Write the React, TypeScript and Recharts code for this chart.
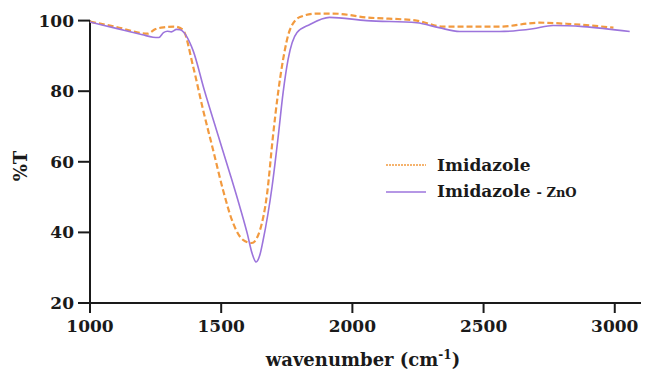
import { LineChart, Line, XAxis, YAxis, ReferenceLine } from 'recharts'

// Imidazole (pure) FTIR trace
const imidazoleWn = [1000, 1100, 1219, 1250, 1280, 1322, 1354, 1393, 1431, 1469, 1507, 1545, 1583, 1617, 1648, 1675, 1697, 1717, 1736, 1762, 1800, 1865, 1925, 2054, 2245, 2344, 2435, 2561, 2713, 2816, 2995]
const imidazoleT = [99.7, 98.2, 96.3, 97.6, 98.1, 98.3, 97.4, 87, 74.7, 63.4, 52, 42.7, 37.9, 37, 40.7, 51, 67, 79.6, 89, 97.4, 101, 102, 102, 100.9, 100, 98.3, 98.3, 98.3, 99.4, 99.1, 98]

// Imidazole - ZnO trace
const znoWn = [1000, 1100, 1200, 1240, 1262, 1280, 1295, 1310, 1330, 1343, 1393, 1435, 1484, 1534, 1572, 1600, 1618, 1633, 1647, 1659, 1694, 1717, 1736, 1755, 1789, 1838, 1913, 2054, 2245, 2330, 2409, 2561, 2688, 2765, 2880, 3057]
const znoT = [99.6, 97.8, 96, 95.3, 95.2, 96.6, 97, 96.8, 97.5, 97.4, 91.5, 80.5, 68.5, 56.5, 47, 39.5, 34, 31.6, 33.5, 37.5, 53, 67, 79.6, 89, 96.6, 98.9, 100.9, 100, 99.4, 98, 96.9, 96.9, 97.7, 98.6, 98.3, 96.9]

const xTicks = [1000, 1500, 2000, 2500, 3000]
const yTicks = [20, 40, 60, 80, 100]

const imidazoleData = imidazoleWn.map((w, i) => ({ wn: w, t: imidazoleT[i] }))
const znoData = znoWn.map((w, i) => ({ wn: w, t: znoT[i] }))

const ORANGE = '#F29A3F'
const PURPLE = '#9C74DC'
const INK = '#1a1a1a'
const FONT = '"DejaVu Serif", serif'

function XLabel() {
  return (
    <text x={363} y={366} textAnchor="middle" fontFamily={FONT} fontWeight="bold" fontSize={18} fill={INK}>
      wavenumber (cm
      <tspan fontSize={12} dy={-7}>-1</tspan>
      <tspan dy={7}>)</tspan>
    </text>
  )
}

function YLabel() {
  return (
    <text x={20} y={166} transform="rotate(-90 20 166)" textAnchor="middle" dominantBaseline="central"
      fontFamily={FONT} fontWeight="bold" fontSize={18} fill={INK}>
      %T
    </text>
  )
}

function LegendBox() {
  return (
    <div style={{ position: 'absolute', left: 383, top: 152, fontFamily: FONT, fontWeight: 'bold', color: INK, fontSize: 17, lineHeight: '26px' }}>
      <div style={{ display: 'flex', alignItems: 'center' }}>
        <svg width={48} height={10}><line x1={3} y1={5} x2={43} y2={5} stroke={ORANGE} strokeWidth={1.5} strokeDasharray="2 1" /></svg>
        <span style={{ marginLeft: 6 }}>Imidazole</span>
      </div>
      <div style={{ display: 'flex', alignItems: 'center' }}>
        <svg width={48} height={10}><line x1={3} y1={5} x2={43} y2={5} stroke={PURPLE} strokeWidth={1.5} /></svg>
        <span style={{ marginLeft: 6 }}>Imidazole <span style={{ fontSize: 13 }}>- ZnO</span></span>
      </div>
    </div>
  )
}

export default function App() {
  return (
    <div style={{ position: 'absolute', left: 0, top: 0, width: 646, height: 379, background: '#fff' }}>
      <LineChart width={646} height={379} margin={{ top: 10, right: 5, bottom: 16, left: 0 }}>
        <XAxis
          type="number"
          dataKey="wn"
          domain={[1000, 3100]}
          ticks={xTicks}
          allowDuplicatedCategory={false}
          height={60}
          tickSize={10}
          tickMargin={7}
          stroke={INK}
          strokeWidth={2}
          tick={{ fontSize: 17, fontFamily: FONT, fontWeight: 'bold', fill: INK }}
          label={<XLabel />}
        />
        <YAxis
          type="number"
          domain={[20, 103]}
          ticks={yTicks}
          width={90}
          axisLine={false}
          tickSize={12}
          tickMargin={4}
          tickLine={{ stroke: INK, strokeWidth: 2 }}
          tick={{ fontSize: 17, fontFamily: FONT, fontWeight: 'bold', fill: INK }}
          label={<YLabel />}
        />
        <ReferenceLine segment={[{ x: 1000, y: 20 }, { x: 1000, y: 100 }]} stroke={INK} strokeWidth={2} />
        <Line data={imidazoleData} dataKey="t" type="monotone" stroke={ORANGE} strokeWidth={2.2}
          strokeDasharray="6 3" dot={false} isAnimationActive={false} name="Imidazole" />
        <Line data={znoData} dataKey="t" type="monotone" stroke={PURPLE} strokeWidth={1.6}
          dot={false} isAnimationActive={false} name="Imidazole - ZnO" />
      </LineChart>
      <LegendBox />
    </div>
  )
}
